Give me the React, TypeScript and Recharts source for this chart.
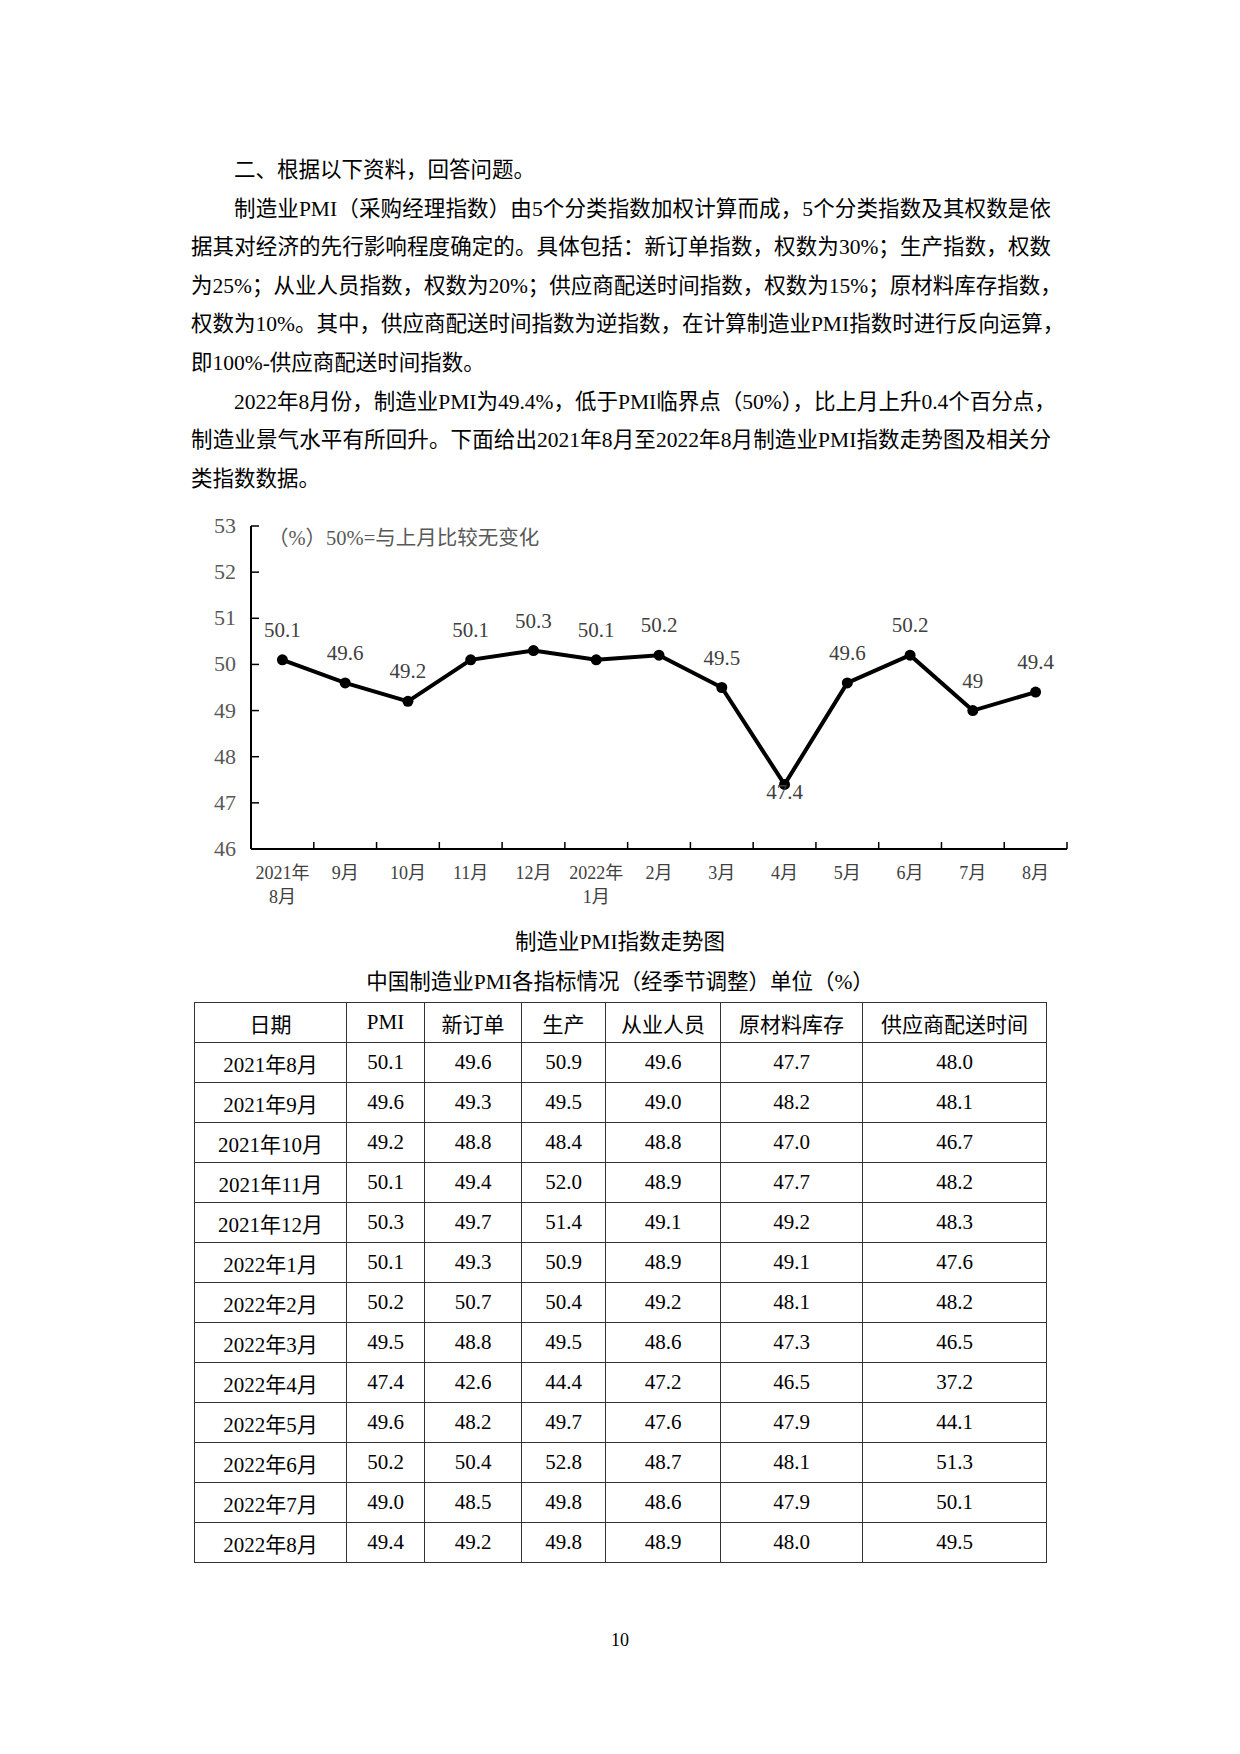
import React from "react"
import { LineChart, Line, XAxis, YAxis } from "recharts"

// chart data
const months = ["2021年\n8月", "9月", "10月", "11月", "12月", "2022年\n1月", "2月", "3月", "4月", "5月", "6月", "7月", "8月"]
const pmiValues = [50.1, 49.6, 49.2, 50.1, 50.3, 50.1, 50.2, 49.5, 47.4, 49.6, 50.2, 49.0, 49.4]
const yTicks = [46, 47, 48, 49, 50, 51, 52, 53]

// table data
const headers = ["日期", "PMI", "新订单", "生产", "从业人员", "原材料库存", "供应商配送时间"]
const dates = ["2021年8月", "2021年9月", "2021年10月", "2021年11月", "2021年12月", "2022年1月", "2022年2月", "2022年3月", "2022年4月", "2022年5月", "2022年6月", "2022年7月", "2022年8月"]
const newOrders = [49.6, 49.3, 48.8, 49.4, 49.7, 49.3, 50.7, 48.8, 42.6, 48.2, 50.4, 48.5, 49.2]
const production = [50.9, 49.5, 48.4, 52.0, 51.4, 50.9, 50.4, 49.5, 44.4, 49.7, 52.8, 49.8, 49.8]
const employment = [49.6, 49.0, 48.8, 48.9, 49.1, 48.9, 49.2, 48.6, 47.2, 47.6, 48.7, 48.6, 48.9]
const rawInventory = [47.7, 48.2, 47.0, 47.7, 49.2, 49.1, 48.1, 47.3, 46.5, 47.9, 48.1, 47.9, 48.0]
const supplierDelivery = [48.0, 48.1, 46.7, 48.2, 48.3, 47.6, 48.2, 46.5, 37.2, 44.1, 51.3, 50.1, 49.5]

const paragraphs = [
  ["二、根据以下资料，回答问题。"],
  [
    "制造业PMI（采购经理指数）由5个分类指数加权计算而成，5个分类指数及其权数是依",
    "据其对经济的先行影响程度确定的。具体包括：新订单指数，权数为30%；生产指数，权数",
    "为25%；从业人员指数，权数为20%；供应商配送时间指数，权数为15%；原材料库存指数，",
    "权数为10%。其中，供应商配送时间指数为逆指数，在计算制造业PMI指数时进行反向运算，",
    "即100%-供应商配送时间指数。",
  ],
  [
    "2022年8月份，制造业PMI为49.4%，低于PMI临界点（50%），比上月上升0.4个百分点，",
    "制造业景气水平有所回升。下面给出2021年8月至2022年8月制造业PMI指数走势图及相关分",
    "类指数数据。",
  ],
]

const chartData = months.map((m, i) => ({ month: m, pmi: pmiValues[i] }))
const colWidths = [152, 78, 97, 84, 115, 142, 184]

const FONT = "'Liberation Serif', 'Times New Roman', 'Noto Sans CJK SC', serif"
const HALF_BAND = 31.4

const XTick = (props: any) => {
  const { x, y, payload } = props
  const lines = String(payload.value).split("\n")
  return (
    <g>
      <line x1={x + HALF_BAND} x2={x + HALF_BAND} y1={y} y2={y - 7} stroke="#000" strokeWidth={1.5} />
      {lines.map((t, i) => (
        <text key={i} x={x} y={y + 30 + i * 24} textAnchor="middle" fill="#404040" style={{ fontFamily: FONT, fontSize: 18 }}>
          {t}
        </text>
      ))}
    </g>
  )
}

const YTick = (props: any) => {
  const { x, y, payload } = props
  return (
    <g>
      <line x1={x} x2={x + 8} y1={y} y2={y} stroke="#000" strokeWidth={1.5} />
      <text x={x - 15} y={y + 7} textAnchor="end" fill="#595959" style={{ fontFamily: FONT, fontSize: 22 }}>
        {payload.value}
      </text>
    </g>
  )
}

const renderLabel = (props: any) => {
  const { x, y, value, index } = props
  // the April low sits its label just under the dot
  const ty = index === 8 ? y + 15 : y - 23
  return (
    <text x={x} y={ty} textAnchor="middle" fill="#404040" style={{ fontFamily: FONT, fontSize: 21 }}>
      {value}
    </text>
  )
}

export default function App() {
  return (
    <div style={{ position: "absolute", left: 0, top: 0, width: 1240, height: 1754, background: "#fff", fontFamily: FONT, color: "#000" }}>
      <div style={{ position: "absolute", left: 191, top: 151, width: 860, fontSize: 21.5, lineHeight: "38.6px" }}>
        {paragraphs.map((p, pi) =>
          p.map((line, li) => {
            const last = li === p.length - 1
            return (
              <div
                key={pi + "-" + li}
                style={{
                  height: 38.6,
                  paddingLeft: li === 0 ? 43 : 0,
                  textAlign: "justify",
                  textAlignLast: last ? "left" : "justify",
                  whiteSpace: "nowrap",
                }}
              >
                {line}
              </div>
            )
          })
        )}
      </div>

      <div style={{ position: "absolute", left: 150, top: 500, width: 950, height: 420 }}>
        <LineChart width={950} height={420} data={chartData} margin={{ top: 26, right: 33, bottom: 11, left: 0 }}>
          <XAxis
            dataKey="month"
            interval={0}
            padding={{ left: HALF_BAND, right: HALF_BAND }}
            height={60}
            tickSize={0}
            tickMargin={0}
            tickLine={false}
            axisLine={{ stroke: "#000", strokeWidth: 2 }}
            tick={<XTick />}
          />
          <YAxis
            domain={[46, 53]}
            ticks={yTicks}
            interval={0}
            width={101}
            tickSize={0}
            tickMargin={0}
            tickLine={false}
            axisLine={{ stroke: "#000", strokeWidth: 2 }}
            tick={<YTick />}
          />
          <Line
            type="linear"
            dataKey="pmi"
            stroke="#000"
            strokeWidth={4}
            dot={{ r: 5.5, fill: "#000", stroke: "#000", strokeWidth: 0 }}
            activeDot={false}
            label={renderLabel}
            isAnimationActive={false}
          />
        </LineChart>
      </div>

      <div style={{ position: "absolute", left: 268, top: 526, fontSize: 20.5, lineHeight: "24px", color: "#595959", whiteSpace: "nowrap" }}>
        （%）50%=与上月比较无变化
      </div>

      <div style={{ position: "absolute", left: 0, width: 1240, top: 927, textAlign: "center", fontSize: 21.5, lineHeight: "30px" }}>
        制造业PMI指数走势图
      </div>
      <div style={{ position: "absolute", left: 0, width: 1240, top: 967, textAlign: "center", fontSize: 21.5, lineHeight: "30px" }}>
        中国制造业PMI各指标情况（经季节调整）单位（%）
      </div>

      <table
        style={{
          position: "absolute",
          left: 194,
          top: 1002,
          borderCollapse: "collapse",
          tableLayout: "fixed",
          fontSize: 21,
          fontFamily: FONT,
        }}
      >
        <colgroup>
          {colWidths.map((w, i) => (
            <col key={i} style={{ width: w }} />
          ))}
        </colgroup>
        <tbody>
          <tr>
            {headers.map((h) => (
              <td key={h} style={{ border: "1.5px solid #333", height: 39, padding: 0, textAlign: "center" }}>
                {h}
              </td>
            ))}
          </tr>
          {dates.map((d, i) => (
            <tr key={d}>
              {[d, pmiValues[i].toFixed(1), newOrders[i].toFixed(1), production[i].toFixed(1), employment[i].toFixed(1), rawInventory[i].toFixed(1), supplierDelivery[i].toFixed(1)].map((c, j) => (
                <td key={j} style={{ border: "1.5px solid #333", height: 39, padding: 0, textAlign: "center" }}>
                  {c}
                </td>
              ))}
            </tr>
          ))}
        </tbody>
      </table>

      <div style={{ position: "absolute", left: 0, width: 1240, top: 1628, textAlign: "center", fontSize: 18, lineHeight: "24px" }}>
        10
      </div>
    </div>
  )
}
